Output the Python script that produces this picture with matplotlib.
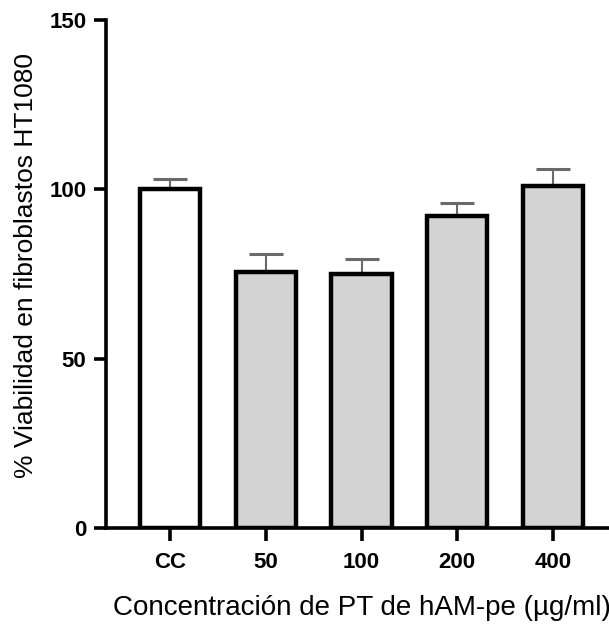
import matplotlib
matplotlib.use("Agg")
import matplotlib.pyplot as plt
import numpy as np

categories = ["CC", "50", "100", "200", "400"]
values = [100, 75.5, 75, 92, 101]
errors = [3, 5.4, 4.5, 4, 5]
colors = ["white", "#d3d3d3", "#d3d3d3", "#d3d3d3", "#d3d3d3"]
yticks = [0, 50, 100, 150]

plt.rcParams['font.family'] = ['Liberation Sans', 'DejaVu Sans']

fig = plt.figure(figsize=(6.09, 6.28), dpi=100)
ax = fig.add_axes([106/609, 100/628, 511/609, 508/628])

x = np.arange(len(categories))
ax.errorbar(x, values, yerr=[np.zeros(len(errors)), errors], fmt='none',
            ecolor='#6a6a6a', elinewidth=1.5, capsize=12, capthick=2.2, zorder=1)
ax.bar(x, values, width=0.63, color=colors, edgecolor='black', linewidth=3.2, zorder=2)

ax.set_xlim(-0.67, 4.67)
ax.set_ylim(0, 150)
ax.set_yticks(yticks)
ax.set_xticks(x)
ax.set_xticklabels(categories, fontweight='bold', fontsize=16)
for lab in ax.get_yticklabels():
    lab.set_fontweight('bold')
    lab.set_fontsize(16)

for s in ['top', 'right']:
    ax.spines[s].set_visible(False)
for s in ['left', 'bottom']:
    ax.spines[s].set_linewidth(2.6)
ax.tick_params(axis='both', width=2.6, length=9, direction='out')
ax.tick_params(axis='y', pad=5)
ax.tick_params(axis='x', pad=8)

ax.set_ylabel('% Viabilidad en fibroblastos HT1080', fontsize=19)
ax.yaxis.set_label_coords(-0.133, 0.517)
ax.set_xlabel('Concentración de PT de hAM-pe (µg/ml)', fontsize=20)
ax.xaxis.set_label_coords(0.5, -0.132)

fig.savefig('out.png', dpi=100)
